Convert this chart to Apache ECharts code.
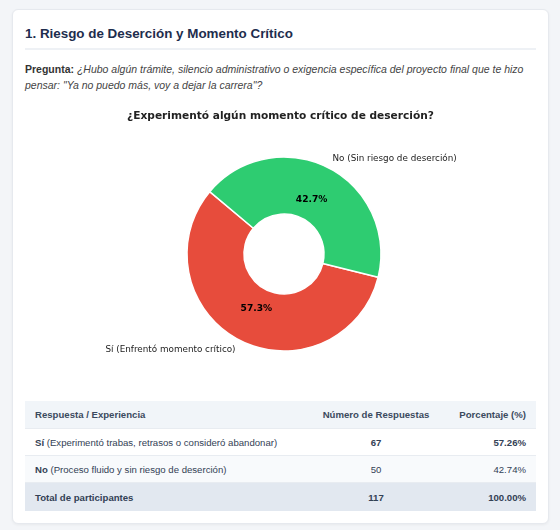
<!DOCTYPE html>
<html>
<head>
<meta charset="utf-8">
<script src="https://cdn.jsdelivr.net/npm/echarts@6/dist/echarts.min.js"></script>
<style>
  html, body { margin: 0; padding: 0; }
  body { width: 560px; height: 530px; background: #f3f5f8; position: relative; overflow: hidden; font-family: "Liberation Sans", Arial, sans-serif; }
  .card { position: absolute; left: 12px; top: 9px; width: 535px; height: 513px; background: #fff; border: 1px solid #e6e9ee; border-radius: 6px; box-shadow: 0 1px 3px rgba(0,0,0,0.05); }
  .title { position: absolute; left: 12px; top: 15px; font-size: 13.4px; font-weight: bold; color: #1e2d4d; line-height: 18px; white-space: nowrap; }
  .rule { position: absolute; left: 12px; top: 38px; width: 511px; height: 2px; background: #eef1f5; }
  .q { position: absolute; left: 12px; top: 51px; width: 515px; font-size: 10.5px; line-height: 16px; color: #333; }
  .q b { color: #333; }
  .q i { color: #444; }
  #chart { position: absolute; left: 12px; top: 91px; width: 511px; height: 280px; }
  table { position: absolute; left: 12px; top: 391px; width: 511px; border-collapse: collapse; font-size: 9.6px; color: #334155; }
  th, td { padding: 0 10px; height: 26px; border-bottom: 1px solid #e8ecf1; box-sizing: content-box; }
  th { background: #f1f5f9; font-weight: bold; color: #3b4a5e; height: 27px; }
  tr.alt td { background: #f8fafc; }
  tr.total td { background: #e2e8f0; font-weight: bold; height: 28px; border-bottom: none; }
  .c1 { text-align: left; width: 265px; }
  .c2 { text-align: center; width: 112px; }
  .c3 { text-align: right; }
</style>
</head>
<body>
<div class="card">
  <div class="title">1. Riesgo de Deserción y Momento Crítico</div>
  <div class="rule"></div>
  <div class="q"><b>Pregunta:</b> <i>¿Hubo algún trámite, silencio administrativo o exigencia específica del proyecto final que te hizo pensar: "Ya no puedo más, voy a dejar la carrera"?</i></div>
  <div id="chart"></div>
  <table id="tbl"></table>
</div>
<script>
const chartTitle = '¿Experimentó algún momento crítico de deserción?';
const categories = ['Sí (Enfrentó momento crítico)', 'No (Sin riesgo de deserción)'];
const values = [67, 50];
const colors = ['#e74c3c', '#2ecc71'];

const tableHeaders = ['Respuesta / Experiencia', 'Número de Respuestas', 'Porcentaje (%)'];
const tableKeys = ['Sí', 'No'];
const tableDescriptions = ['(Experimentó trabas, retrasos o consideró abandonar)', '(Proceso fluido y sin riesgo de deserción)'];
const totalLabel = 'Total de participantes';

const total = values.reduce((a, b) => a + b, 0);

// Table
const tbl = document.getElementById('tbl');
let html = '<tr><th class="c1">' + tableHeaders[0] + '</th><th class="c2">' + tableHeaders[1] + '</th><th class="c3">' + tableHeaders[2] + '</th></tr>';
tableKeys.forEach((k, i) => {
  const pct = (values[i] / total * 100).toFixed(2) + '%';
  const strong = i === 0;
  html += '<tr' + (i === 1 ? ' class="alt"' : '') + '><td class="c1"><b>' + k + '</b> ' + tableDescriptions[i] + '</td>' +
    '<td class="c2">' + (strong ? '<b>' + values[i] + '</b>' : values[i]) + '</td>' +
    '<td class="c3">' + (strong ? '<b>' + pct + '</b>' : pct) + '</td></tr>';
});
html += '<tr class="total"><td class="c1">' + totalLabel + '</td><td class="c2">' + total + '</td><td class="c3">' + (100).toFixed(2) + '%</td></tr>';
tbl.innerHTML = html;

// Chart
const chart = echarts.init(document.getElementById('chart'), null, { renderer: 'canvas' });
const pieData = categories.map((c, i) => ({ name: c, value: values[i], itemStyle: { color: colors[i] } }));
chart.setOption({
  animation: false,
  title: {
    text: chartTitle, left: 'center', top: 10, padding: 0,
    textStyle: { fontFamily: 'DejaVu Sans', fontSize: 10.6, fontWeight: 'bold', color: '#222' }
  },
  series: [
    {
      type: 'pie',
      center: [259, 153],
      radius: [40, 97],
      startAngle: 140,
      clockwise: false,
      silent: true,
      data: pieData,
      itemStyle: { borderColor: '#fff', borderWidth: 1.5 },
      label: {
        show: true, position: 'outside', distanceToLabelLine: 0,
        fontFamily: 'DejaVu Sans', fontSize: 8.8, color: '#222'
      },
      labelLine: { show: false, length: 10, length2: 0 }
    },
    {
      type: 'pie',
      center: [259, 153],
      radius: [0, 116],
      startAngle: 140,
      clockwise: false,
      silent: true,
      data: categories.map((c, i) => ({ name: c, value: values[i] })),
      itemStyle: { color: 'rgba(0,0,0,0)' },
      label: {
        show: true, position: 'inside',
        formatter: p => (p.value / total * 100).toFixed(1) + '%',
        fontFamily: 'DejaVu Sans', fontSize: 9.1, fontWeight: 'bold', color: '#000'
      },
      labelLine: { show: false }
    }
  ]
});
</script>
</body>
</html>
